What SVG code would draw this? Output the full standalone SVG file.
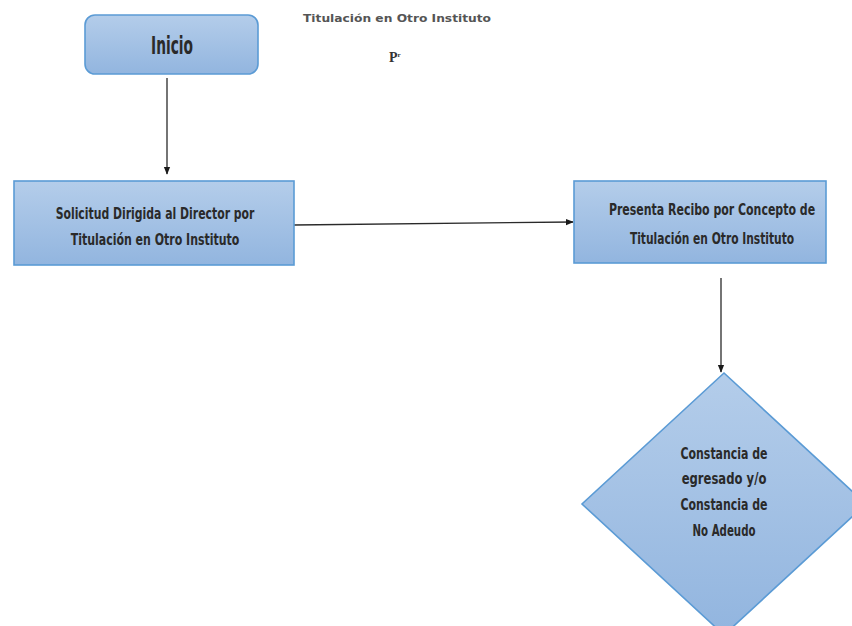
<svg xmlns="http://www.w3.org/2000/svg" width="852" height="626" viewBox="0 0 852 626">
  <defs>
    <linearGradient id="fillBlue" x1="0" y1="0" x2="0" y2="1">
      <stop offset="0" stop-color="#b4cdea"/>
      <stop offset="1" stop-color="#92b5df"/>
    </linearGradient>
    <marker id="arrow" viewBox="0 0 10 10" refX="9" refY="5" markerWidth="8" markerHeight="8" orient="auto" markerUnits="userSpaceOnUse">
      <path d="M0,1 L10,5 L0,9 z" fill="#1a1a1a"/>
    </marker>
    <style>
      .shape { fill: url(#fillBlue); stroke: #5b9bd5; stroke-width: 1.6; }
      .label { font-family: "DejaVu Sans Condensed", "DejaVu Sans", sans-serif; font-stretch: condensed; font-weight: bold; font-size: 16.5px; fill: #2a2a2a; text-anchor: middle; }
      .conn { stroke: #2a2a2a; stroke-width: 1.3; fill: none; marker-end: url(#arrow); }
    </style>
  </defs>
  <rect width="852" height="626" fill="#ffffff"/>

  <!-- header -->
  <text x="397" y="22" font-family="DejaVu Sans Condensed, DejaVu Sans, sans-serif" font-size="10" font-weight="bold" fill="#555" text-anchor="middle" textLength="188" lengthAdjust="spacingAndGlyphs">Titulación en Otro Instituto</text>
  <text x="389" y="62" font-family="Liberation Serif, serif" font-size="14" font-weight="bold" fill="#333">P<tspan font-size="7" dy="-5">r</tspan></text>

  <!-- connectors -->
  <g id="connectors">
    <line class="conn" x1="167" y1="78" x2="167" y2="174"/>
    <line class="conn" x1="294" y1="225" x2="573" y2="222"/>
    <line class="conn" x1="721" y1="278" x2="721" y2="372"/>
  </g>

  <g id="inicio">
    <rect class="shape" x="85" y="15" width="173" height="59" rx="10"/>
    <text class="label" transform="translate(172,54) scale(0.75,1)" style="font-size:24px" textLength="56" lengthAdjust="spacingAndGlyphs">Inicio</text>
  </g>

  <!-- narrow lettering: each line is squeezed horizontally by 0.75 -->
  <g id="solicitud">
    <rect class="shape" x="14" y="181" width="280" height="84"/>
    <text class="label" transform="translate(155,218.5) scale(0.75,1)" textLength="265" lengthAdjust="spacingAndGlyphs">Solicitud Dirigida al Director por</text>
    <text class="label" transform="translate(155,244.5) scale(0.75,1)" textLength="225" lengthAdjust="spacingAndGlyphs">Titulación en Otro Instituto</text>
  </g>

  <g id="recibo">
    <rect class="shape" x="574" y="181" width="252" height="82"/>
    <text class="label" transform="translate(712,214.5) scale(0.75,1)" textLength="275" lengthAdjust="spacingAndGlyphs">Presenta Recibo por Concepto de</text>
    <text class="label" transform="translate(712,243.5) scale(0.75,1)" textLength="219" lengthAdjust="spacingAndGlyphs">Titulación en Otro Instituto</text>
  </g>

  <g id="constancia">
    <polygon class="shape" points="724,373 866,504 724,635 582,504"/>
    <text class="label" transform="translate(724,459) scale(0.75,1)" textLength="116" lengthAdjust="spacingAndGlyphs">Constancia de</text>
    <text class="label" transform="translate(724,484) scale(0.75,1)" textLength="113" lengthAdjust="spacingAndGlyphs">egresado y/o</text>
    <text class="label" transform="translate(724,510) scale(0.75,1)" textLength="116" lengthAdjust="spacingAndGlyphs">Constancia de</text>
    <text class="label" transform="translate(724,536) scale(0.75,1)" textLength="84" lengthAdjust="spacingAndGlyphs">No Adeudo</text>
  </g>
</svg>
